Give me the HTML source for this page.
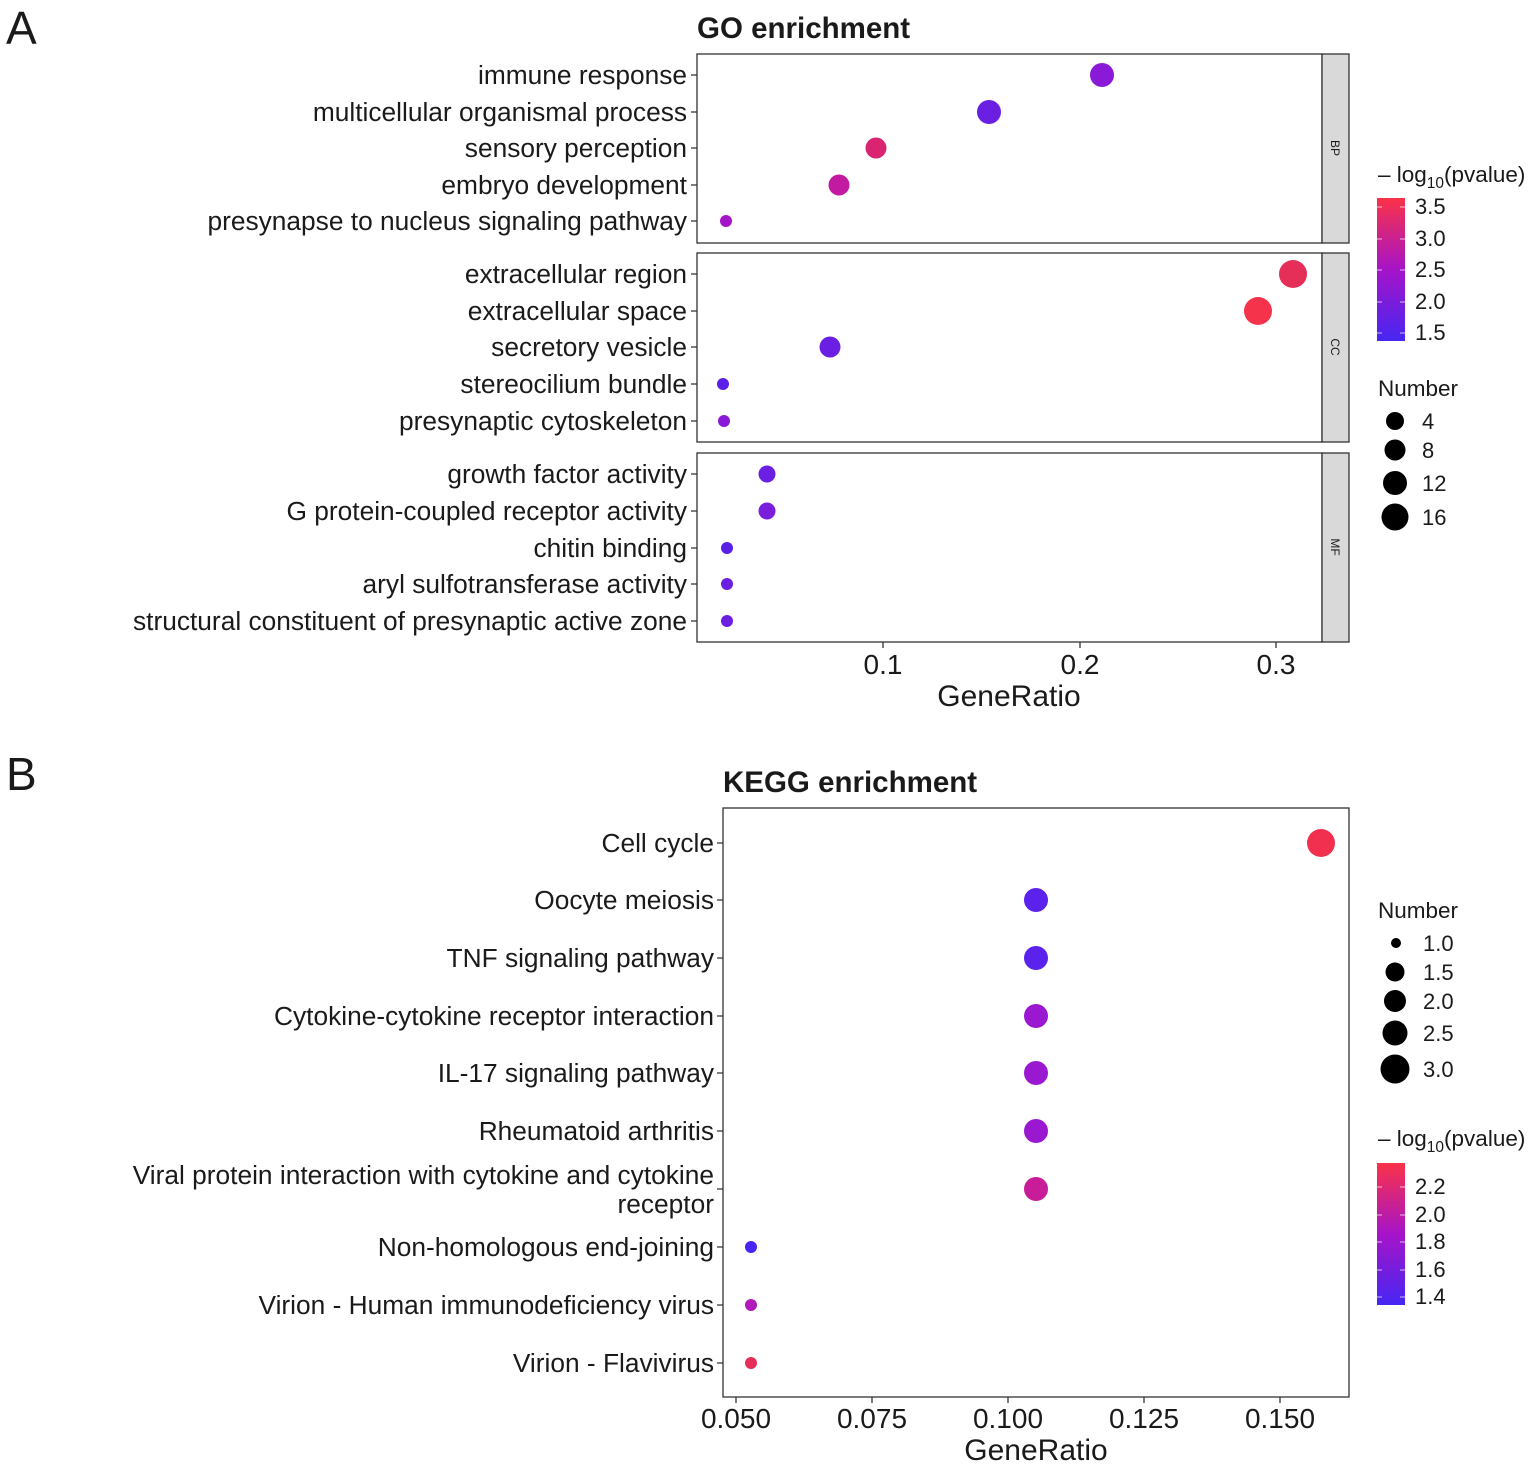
<!DOCTYPE html>
<html><head><meta charset="utf-8"><style>body{margin:0;background:#fff}svg{display:block}text{font-family:"Liberation Sans",Arial,sans-serif;fill:#1a1a1a}</style></head><body>
<svg width="1535" height="1468" viewBox="0 0 1535 1468" xmlns="http://www.w3.org/2000/svg">
<defs>
<linearGradient id="g1" x1="0" y1="1" x2="0" y2="0"><stop offset="0" stop-color="#4626F2"/><stop offset="0.5" stop-color="#A614C8"/><stop offset="1" stop-color="#FA3248"/></linearGradient>
</defs>
<text x="6" y="44" font-size="46">A</text>
<text x="6" y="790" font-size="46">B</text>
<text x="697" y="38" font-size="29.5" font-weight="bold">GO enrichment</text>
<g fill="#fff" stroke="#333" stroke-width="1.3">
<rect x="697" y="54" width="625" height="189"/><rect x="697" y="253" width="625" height="189"/><rect x="697" y="453" width="625" height="189"/>
</g>
<g fill="#d9d9d9" stroke="#333" stroke-width="1.3">
<rect x="1322" y="54" width="27" height="189"/><rect x="1322" y="253" width="27" height="189"/><rect x="1322" y="453" width="27" height="189"/>
</g>
<g font-size="12"><text transform="translate(1331,148) rotate(90)" text-anchor="middle">BP</text><text transform="translate(1331,347) rotate(90)" text-anchor="middle">CC</text><text transform="translate(1331,547) rotate(90)" text-anchor="middle">MF</text></g>
<g font-size="26.3" text-anchor="end">
<text x="687" y="84">immune response</text><text x="687" y="121">multicellular organismal process</text><text x="687" y="157">sensory perception</text><text x="687" y="194">embryo development</text><text x="687" y="230">presynapse to nucleus signaling pathway</text>
<text x="687" y="283">extracellular region</text><text x="687" y="320">extracellular space</text><text x="687" y="356">secretory vesicle</text><text x="687" y="393">stereocilium bundle</text><text x="687" y="430">presynaptic cytoskeleton</text>
<text x="687" y="483">growth factor activity</text><text x="687" y="520">G protein-coupled receptor activity</text><text x="687" y="557">chitin binding</text><text x="687" y="593">aryl sulfotransferase activity</text><text x="687" y="630">structural constituent of presynaptic active zone</text>
</g>
<g stroke="#333" stroke-width="1.3">
<path d="M691 75h6M691 112h6M691 148h6M691 185h6M691 221h6M691 274h6M691 311h6M691 347h6M691 384h6M691 421h6M691 474h6M691 511h6M691 548h6M691 584h6M691 621h6M883 642v6M1080 642v6M1276 642v6"/>
</g>
<g font-size="28" text-anchor="middle"><text x="883" y="674">0.1</text><text x="1080" y="674">0.2</text><text x="1276" y="674">0.3</text><text x="1009" y="706" font-size="30">GeneRatio</text></g>
<g>
<circle cx="1102" cy="75" r="12" fill="#8A1AD8"/><circle cx="989" cy="112" r="12" fill="#6A1FE2"/><circle cx="876" cy="148" r="10.5" fill="#D92472"/><circle cx="839" cy="185" r="10.5" fill="#C21AA0"/><circle cx="726" cy="221" r="6" fill="#A316C8"/>
<circle cx="1293" cy="274" r="14" fill="#E52E58"/><circle cx="1258" cy="311" r="14" fill="#F5334A"/><circle cx="830" cy="347" r="10.5" fill="#6A1FE2"/><circle cx="723" cy="384" r="6" fill="#5A20E8"/><circle cx="724" cy="421" r="6" fill="#8A1AD8"/>
<circle cx="767" cy="474" r="8.5" fill="#6A1FE2"/><circle cx="767" cy="511" r="8.5" fill="#7A1DDC"/><circle cx="727" cy="548" r="6" fill="#5A20E8"/><circle cx="727" cy="584" r="6" fill="#6A1FE2"/><circle cx="727" cy="621" r="6" fill="#6A1FE2"/>
</g>
<text x="1378" y="182" font-size="22.5">– log<tspan font-size="15.5" dy="6">10</tspan><tspan dy="-6">(pvalue)</tspan></text>
<rect x="1377" y="198" width="28" height="143" fill="url(#g1)"/>
<g stroke="#fff" stroke-width="1" opacity=".7"><path d="M1377 207h5M1400 207h5M1377 239h5M1400 239h5M1377 270h5M1400 270h5M1377 302h5M1400 302h5M1377 333h5M1400 333h5"/></g>
<g font-size="22"><text x="1415" y="214">3.5</text><text x="1415" y="246">3.0</text><text x="1415" y="277">2.5</text><text x="1415" y="309">2.0</text><text x="1415" y="340">1.5</text></g>
<text x="1378" y="396" font-size="22.5">Number</text>
<g fill="#000"><circle cx="1395" cy="421" r="9"/><circle cx="1395" cy="450" r="10.5"/><circle cx="1395" cy="483" r="12"/><circle cx="1395" cy="517" r="13.5"/></g>
<g font-size="22"><text x="1422" y="429">4</text><text x="1422" y="458">8</text><text x="1422" y="491">12</text><text x="1422" y="525">16</text></g>

<text x="723" y="792" font-size="29.5" font-weight="bold">KEGG enrichment</text>
<rect x="723" y="808" width="626" height="589" fill="#fff" stroke="#333" stroke-width="1.3"/>
<g font-size="26.3" text-anchor="end">
<text x="714" y="852">Cell cycle</text><text x="714" y="909">Oocyte meiosis</text><text x="714" y="967">TNF signaling pathway</text><text x="714" y="1025">Cytokine-cytokine receptor interaction</text><text x="714" y="1082">IL-17 signaling pathway</text><text x="714" y="1140">Rheumatoid arthritis</text><text x="714" y="1184">Viral protein interaction with cytokine and cytokine</text><text x="714" y="1213">receptor</text><text x="714" y="1256">Non-homologous end-joining</text><text x="714" y="1314">Virion - Human immunodeficiency virus</text><text x="714" y="1372">Virion - Flavivirus</text>
</g>
<g stroke="#333" stroke-width="1.3"><path d="M717 843h6M717 900h6M717 958h6M717 1016h6M717 1073h6M717 1131h6M717 1189h6M717 1247h6M717 1305h6M717 1363h6M736 1397v6M872 1397v6M1008 1397v6M1144 1397v6M1280 1397v6"/></g>
<g font-size="28" text-anchor="middle"><text x="736" y="1428">0.050</text><text x="872" y="1428">0.075</text><text x="1008" y="1428">0.100</text><text x="1144" y="1428">0.125</text><text x="1280" y="1428">0.150</text><text x="1036" y="1460" font-size="30">GeneRatio</text></g>
<g>
<circle cx="1321" cy="843" r="14" fill="#F0304E"/><circle cx="1036" cy="900" r="12" fill="#5A22EC"/><circle cx="1036" cy="958" r="12" fill="#5A22EC"/><circle cx="1036" cy="1016" r="12" fill="#9A18D0"/><circle cx="1036" cy="1073" r="12" fill="#9A18D0"/><circle cx="1036" cy="1131" r="12" fill="#9A18D0"/><circle cx="1036" cy="1189" r="12" fill="#C81C98"/><circle cx="751" cy="1247" r="6" fill="#4A24F0"/><circle cx="751" cy="1305" r="6" fill="#B01AB8"/><circle cx="751" cy="1363" r="6" fill="#E52E58"/>
</g>
<text x="1378" y="918" font-size="22.5">Number</text>
<g fill="#000"><circle cx="1396" cy="943" r="5"/><circle cx="1395" cy="972" r="9.5"/><circle cx="1395" cy="1001" r="11"/><circle cx="1395" cy="1033" r="12.5"/><circle cx="1395" cy="1069" r="14.5"/></g>
<g font-size="22"><text x="1423" y="951">1.0</text><text x="1423" y="980">1.5</text><text x="1423" y="1009">2.0</text><text x="1423" y="1041">2.5</text><text x="1423" y="1077">3.0</text></g>
<text x="1378" y="1146" font-size="22.5">– log<tspan font-size="15.5" dy="6">10</tspan><tspan dy="-6">(pvalue)</tspan></text>
<rect x="1377" y="1163" width="28" height="142" fill="url(#g1)"/>
<g stroke="#fff" stroke-width="1" opacity=".7"><path d="M1377 1187h5M1400 1187h5M1377 1215h5M1400 1215h5M1377 1242h5M1400 1242h5M1377 1270h5M1400 1270h5M1377 1297h5M1400 1297h5"/></g>
<g font-size="22"><text x="1415" y="1194">2.2</text><text x="1415" y="1222">2.0</text><text x="1415" y="1249">1.8</text><text x="1415" y="1277">1.6</text><text x="1415" y="1304">1.4</text></g>
</svg>
</body></html>
